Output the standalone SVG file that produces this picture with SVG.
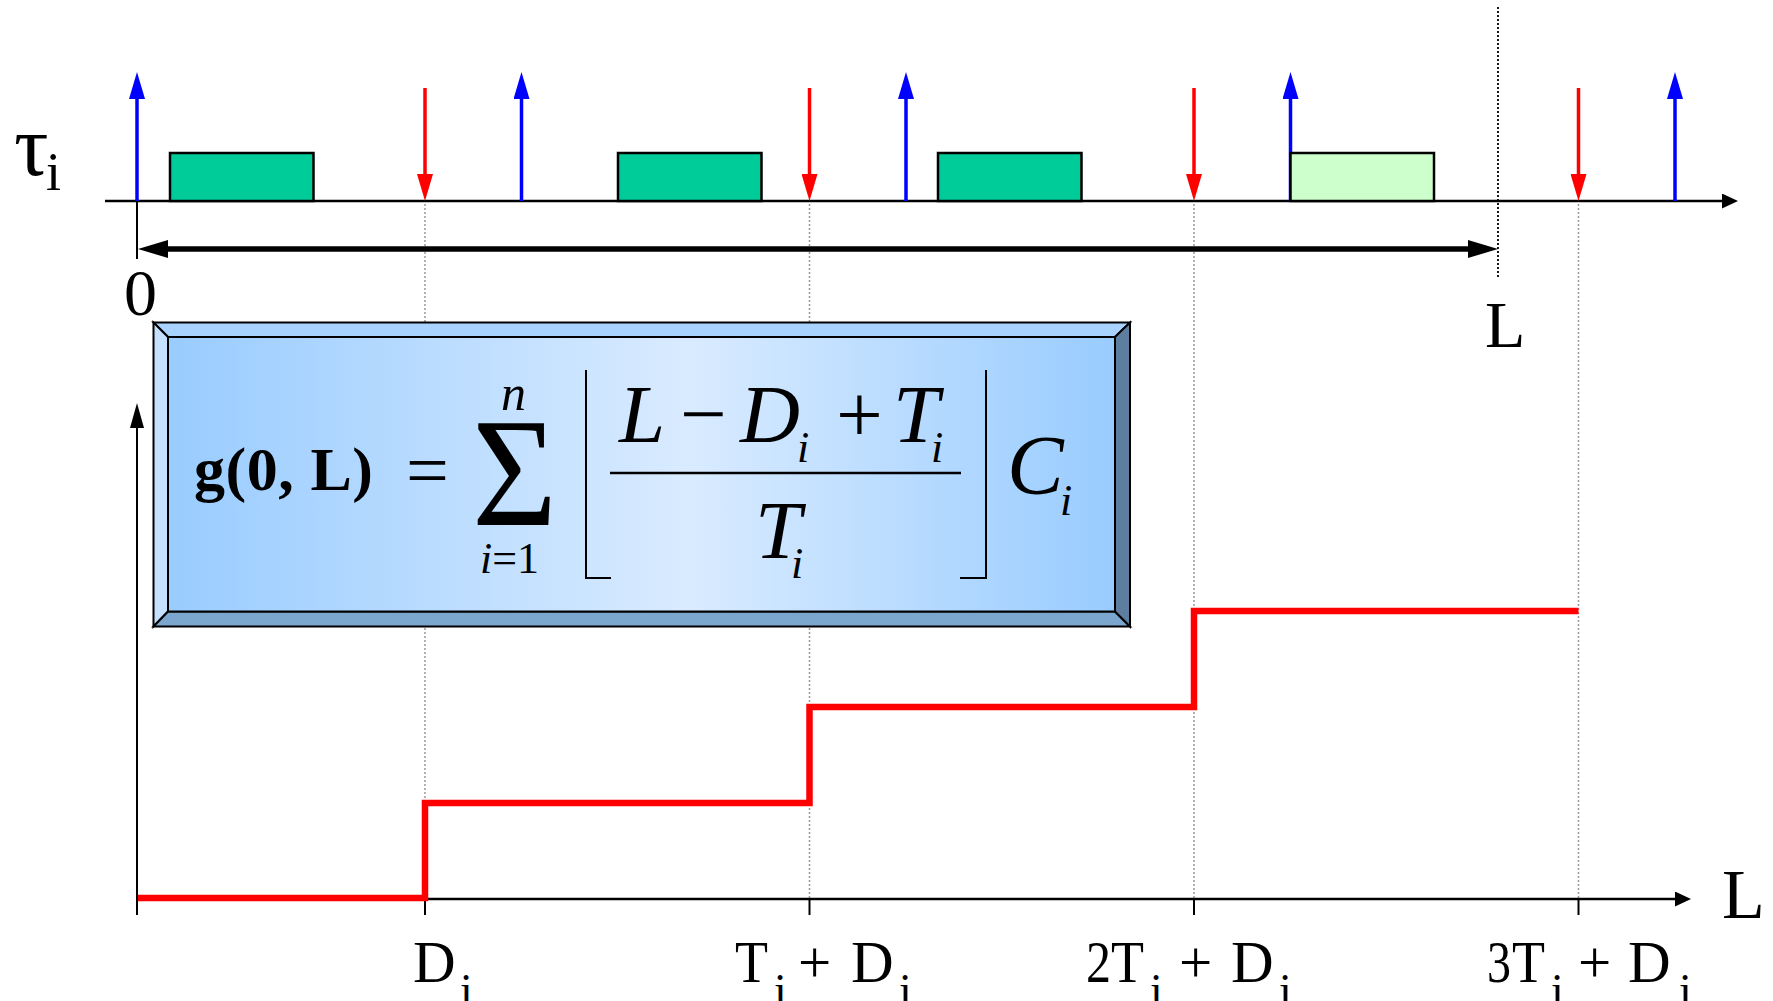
<svg xmlns="http://www.w3.org/2000/svg" width="1773" height="1001" viewBox="0 0 1773 1001">
<style>
  text { font-family: "Liberation Serif", "Times New Roman", serif; fill: #000; }
  .it { font-style: italic; }
  .job { fill: #00CC99; stroke: #000; stroke-width: 2.5; }
  .job-late { fill: #CCFFCC; stroke: #000; stroke-width: 2.5; }
  .rel { stroke: #0000FF; stroke-width: 3.5; fill: none; }
  .dl { stroke: #FF0000; stroke-width: 3.5; fill: none; }
  .axis { stroke: #000; stroke-width: 2.5; fill: none; }
  .guide { stroke: #999; stroke-width: 1.5; stroke-dasharray: 2 2; fill: none; }
  .lguide { stroke: #000; stroke-width: 1.8; stroke-dasharray: 2 2; fill: none; }
  .tick { stroke: #000; stroke-width: 2; fill: none; }
  .step { stroke: #FF0000; stroke-width: 6.5; fill: none; stroke-linejoin: miter; }
  .bev { stroke: #000; stroke-width: 2; }
  .lbl { font-size: 59px; }
  .sub { font-size: 46px; }
</style>
<defs>
  <marker id="hBlue" markerUnits="userSpaceOnUse" markerWidth="27" markerHeight="16" refX="0" refY="8" orient="auto" viewBox="0 0 27 16">
    <path d="M0,0 L27,8 L0,16 Z" fill="#0000FF"/>
  </marker>
  <marker id="hRed" markerUnits="userSpaceOnUse" markerWidth="27" markerHeight="16" refX="0" refY="8" orient="auto" viewBox="0 0 27 16">
    <path d="M0,0 L27,8 L0,16 Z" fill="#FF0000"/>
  </marker>
  <marker id="hAxis" markerUnits="userSpaceOnUse" markerWidth="16" markerHeight="15" refX="0" refY="7.5" orient="auto" viewBox="0 0 16 15">
    <path d="M0,0 L16,7.5 L0,15 Z" fill="#000"/>
  </marker>
  <marker id="hSmall" markerUnits="userSpaceOnUse" markerWidth="25" markerHeight="14" refX="0" refY="7" orient="auto" viewBox="0 0 25 14">
    <path d="M0,0 L25,7 L0,14 Z" fill="#000"/>
  </marker>
  <marker id="hBig" markerUnits="userSpaceOnUse" markerWidth="30" markerHeight="18" refX="0" refY="9" orient="auto-start-reverse" viewBox="0 0 30 18">
    <path d="M0,0 L30,9 L0,18 Z" fill="#000"/>
  </marker>
  <linearGradient id="face" x1="0" y1="0" x2="1" y2="0">
    <stop offset="0" stop-color="#99CCFF"/>
    <stop offset="0.55" stop-color="#D9EBFF"/>
    <stop offset="1" stop-color="#99CCFF"/>
  </linearGradient>
</defs>

<!-- guide lines -->
<g id="guides">
  <line class="guide" x1="425" y1="204" x2="425" y2="899"/>
  <line class="guide" x1="809.5" y1="204" x2="809.5" y2="899"/>
  <line class="guide" x1="1194" y1="204" x2="1194" y2="899"/>
  <line class="guide" x1="1578.5" y1="204" x2="1578.5" y2="899"/>
  <line class="lguide" x1="1498" y1="7" x2="1498" y2="277"/>
</g>

<!-- top timeline -->
<g id="timeline">
  <line class="axis" x1="105" y1="201" x2="1722" y2="201" marker-end="url(#hAxis)"/>
  <line class="tick" x1="137" y1="201" x2="137" y2="259"/>
  <text x="14" y="175" font-size="86">τ</text>
  <text x="46" y="190" font-size="54">i</text>
</g>

<g id="releases">
  <line class="rel" x1="137" y1="201" x2="137" y2="99" marker-end="url(#hBlue)"/>
  <line class="rel" x1="521.5" y1="201" x2="521.5" y2="99" marker-end="url(#hBlue)"/>
  <line class="rel" x1="906" y1="201" x2="906" y2="99" marker-end="url(#hBlue)"/>
  <line class="rel" x1="1290.5" y1="201" x2="1290.5" y2="99" marker-end="url(#hBlue)"/>
  <line class="rel" x1="1675" y1="201" x2="1675" y2="99" marker-end="url(#hBlue)"/>
</g>

<g id="jobs">
  <rect id="job1" class="job" x="170" y="153" width="143.5" height="48"/>
  <rect id="job2" class="job" x="618" y="153" width="143.5" height="48"/>
  <rect id="job3" class="job" x="938" y="153" width="143.5" height="48"/>
  <rect id="job4" class="job-late" x="1290.5" y="153" width="143.5" height="48"/>
</g>

<g id="deadlines">
  <line class="dl" x1="425" y1="88" x2="425" y2="174" marker-end="url(#hRed)"/>
  <line class="dl" x1="809.5" y1="88" x2="809.5" y2="174" marker-end="url(#hRed)"/>
  <line class="dl" x1="1194" y1="88" x2="1194" y2="174" marker-end="url(#hRed)"/>
  <line class="dl" x1="1578.5" y1="88" x2="1578.5" y2="174" marker-end="url(#hRed)"/>
</g>

<g id="interval">
  <line x1="168" y1="249" x2="1468" y2="249" stroke="#000" stroke-width="5.5" marker-start="url(#hBig)" marker-end="url(#hBig)"/>
  <text x="140.5" y="315" font-size="66" text-anchor="middle">0</text>
  <text x="1485" y="347" font-size="66">L</text>
</g>

<!-- lower chart -->
<g id="chart">
  <line class="axis" x1="137" y1="899" x2="1675" y2="899" marker-end="url(#hAxis)"/>
  <line class="tick" x1="137" y1="915" x2="137" y2="428" marker-end="url(#hSmall)"/>
  <line class="tick" x1="425" y1="899" x2="425" y2="915"/>
  <line class="tick" x1="809.5" y1="899" x2="809.5" y2="915"/>
  <line class="tick" x1="1194" y1="899" x2="1194" y2="915"/>
  <line class="tick" x1="1578.5" y1="899" x2="1578.5" y2="915"/>
  <path class="step" d="M138,898 H425 V803 H809.5 V707 H1194 V611 H1578.5"/>
  <text x="1722" y="918" font-size="70">L</text>
  <g id="lbl-d">
    <text class="lbl" x="413" y="982">D</text>
    <text class="sub" x="460" y="1006">i</text>
  </g>
  <g id="lbl-t">
    <text class="lbl" x="735" y="982" textLength="33" lengthAdjust="spacingAndGlyphs">T</text>
    <text class="sub" x="774" y="1006">i</text>
    <text class="lbl" x="798" y="982">+</text>
    <text class="lbl" x="851" y="982">D</text>
    <text class="sub" x="899" y="1006">i</text>
  </g>
  <g id="lbl-2t">
    <text class="lbl" x="1086" y="982" textLength="25" lengthAdjust="spacingAndGlyphs">2</text>
    <text class="lbl" x="1111" y="982" textLength="33" lengthAdjust="spacingAndGlyphs">T</text>
    <text class="sub" x="1150" y="1006">i</text>
    <text class="lbl" x="1179" y="982">+</text>
    <text class="lbl" x="1231" y="982">D</text>
    <text class="sub" x="1279" y="1006">i</text>
  </g>
  <g id="lbl-3t">
    <text class="lbl" x="1487" y="982" textLength="24" lengthAdjust="spacingAndGlyphs">3</text>
    <text class="lbl" x="1512" y="982" textLength="33" lengthAdjust="spacingAndGlyphs">T</text>
    <text class="sub" x="1551" y="1006">i</text>
    <text class="lbl" x="1578" y="982">+</text>
    <text class="lbl" x="1628" y="982">D</text>
    <text class="sub" x="1679" y="1006">i</text>
  </g>
</g>

<!-- formula box -->
<g id="formula">
  <polygon class="bev" points="153.5,322.5 1130,322.5 1115,337 168,337" fill="#A8D3FF"/>
  <polygon class="bev" points="153.5,322.5 168,337 168,611.5 153.5,626.5" fill="#C4E1FF"/>
  <polygon class="bev" points="153.5,626.5 168,611.5 1115,611.5 1130,626.5" fill="#7BA6CE"/>
  <polygon class="bev" points="1130,322.5 1130,626.5 1115,611.5 1115,337" fill="#5E7E9F"/>
  <rect x="168" y="337" width="947" height="274.5" fill="url(#face)" stroke="#000" stroke-width="2"/>
  <text x="194" y="490" font-size="62" font-weight="bold" textLength="179" lengthAdjust="spacing">g(0, L)</text>
  <text x="406" y="496" font-size="76">=</text>
  <text x="472" y="525" font-size="155" textLength="85" lengthAdjust="spacingAndGlyphs">Σ</text>
  <text x="501" y="410" font-size="50" class="it">n</text>
  <text x="480" y="573" font-size="44"><tspan class="it">i</tspan>=1</text>
  <path d="M586,370 V578 H611" fill="none" stroke="#000" stroke-width="2"/>
  <path d="M960,578 H986 V370" fill="none" stroke="#000" stroke-width="2"/>
  <line x1="610" y1="473" x2="961" y2="473" stroke="#000" stroke-width="2.5"/>
  <text x="619" y="442" font-size="83" class="it">L</text>
  <text x="680" y="442" font-size="83">−</text>
  <text x="740" y="442" font-size="83" class="it">D</text>
  <text x="797" y="462" font-size="44" class="it">i</text>
  <text x="836" y="442" font-size="83">+</text>
  <text x="893" y="442" font-size="83" class="it">T</text>
  <text x="931" y="462" font-size="44" class="it">i</text>
  <text x="755" y="558" font-size="83" class="it">T</text>
  <text x="791" y="578" font-size="44" class="it">i</text>
  <text x="1007" y="494" font-size="85" class="it">C</text>
  <text x="1060" y="515" font-size="44" class="it">i</text>
</g>
</svg>
